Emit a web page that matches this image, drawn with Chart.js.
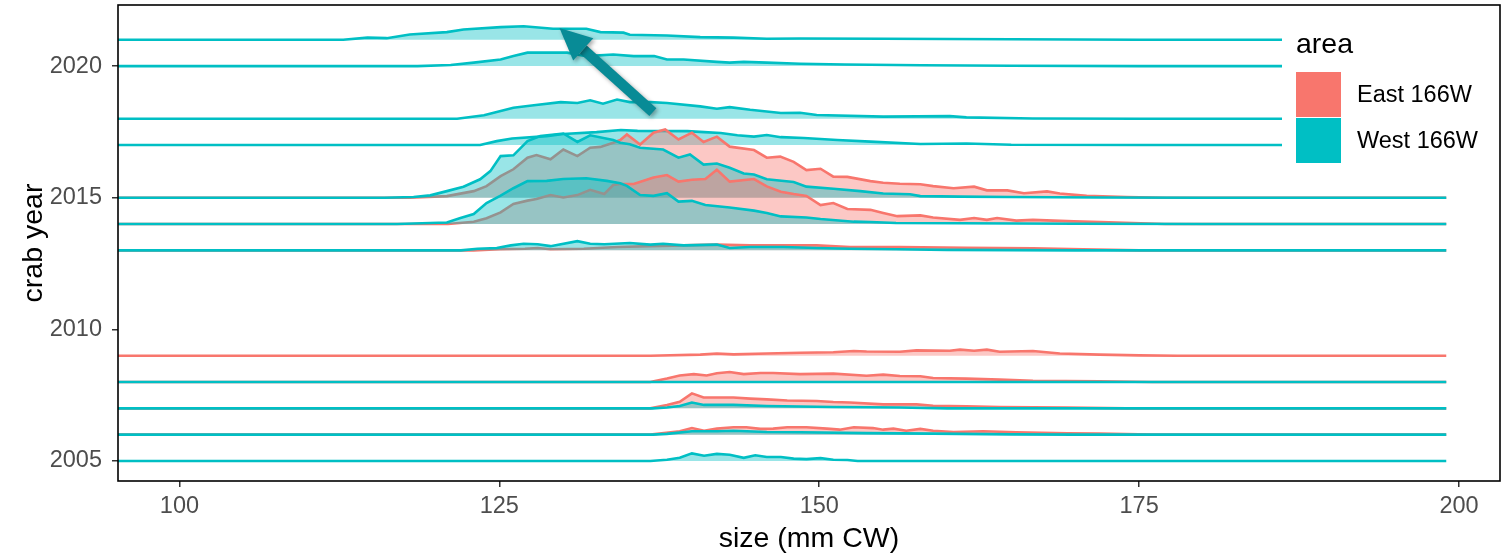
<!DOCTYPE html>
<html>
<head>
<meta charset="utf-8">
<script src="https://cdn.jsdelivr.net/npm/chart.js@4.4.1/dist/chart.umd.min.js"></script>
<style>
  html, body { margin: 0; padding: 0; background: #fff; }
  canvas { display: block; }
</style>
</head>
<body>
<canvas id="chart" width="1506" height="556"></canvas>
<script>
// Ridge data: [size (mm CW), ridge height in % of the gap between two years]
const west2021 = [[95,0],[112.8,0],[114.7,8],[116.2,6],[118,20],[120.9,29],[122.2,39],[125.1,48],[126.9,51],[129.2,42],[131.8,42],[132.9,29],[134.7,27],[135.2,19],[138.1,16],[140.7,10],[143.3,8],[145.9,4],[148.5,5],[155,4],[165,2],[175,0],[199,0]];
const west2020 = [[95,0],[118.6,0],[121.2,4],[123,13],[125.1,25],[126.1,38],[127.2,51],[129.2,51],[130.3,51],[131.8,38],[133.9,44],[135.5,38],[137.1,38],[138.1,25],[139.4,25],[142,16],[143,13],[144.1,16],[145.9,13],[148.5,9],[152,6],[158,3],[165,1],[175,0],[199,0]];
const west2018 = [[95,0],[121.7,0],[123.8,13],[126.1,42],[127.7,51],[129.8,63],[131.1,60],[132.1,70],[133.1,57],[134.2,73],[135.2,63],[136.8,63],[138.1,60],[140.7,47],[142,38],[143,44],[144.6,34],[147,22],[148.5,23],[149.8,14],[155,8],[160.2,10],[161.5,5],[166.7,1],[175,0],[199,0]];
const west2017 = [[95,0],[123.5,0],[124.8,15],[126,25],[128.7,34],[130,42],[132.6,49],[134.5,57],[135.8,54],[139.7,53],[141,49],[142.3,46],[143.6,37],[144.9,32],[145.9,38],[147,30],[148.8,27],[151.4,19],[154,13],[157.9,4],[161.5,6],[165,1],[175,0],[199,0]];
const east2015 = [[95,0],[118,0],[120.9,6],[123,25],[124,44],[125.1,82],[126.1,108],[127.2,152],[127.9,162],[129,146],[130,183],[131.1,158],[132.1,190],[132.9,193],[133.9,209],[134.45,219],[134.97,240],[136,202],[137.05,247],[137.96,259],[139,221],[140.05,247],[140.96,212],[142,232],[143,194],[144.9,181],[145.9,152],[146.95,156],[148,136],[149,105],[150.1,110],[151.1,80],[152.2,79],[154,63],[155,57],[156.3,53],[157.9,51],[158.9,44],[160.5,36],[162.1,42],[163.1,28],[164.7,28],[166,17],[167.8,24],[168.8,16],[170.9,7],[174,3],[177,0],[199,0]];
const west2015 = [[95,0],[116,0],[118.3,3],[119.6,9],[120.9,25],[122.2,42],[123.5,70],[124.3,101],[125.1,158],[126.1,161],[127.2,215],[128.2,234],[130,244],[131.1,212],[132.1,237],[133.9,219],[134.45,209],[135.2,203],[136,190],[137.8,183],[139,152],[139.9,164],[140.96,126],[142,130],[143,114],[144.1,92],[144.9,88],[145.9,70],[148,60],[149,42],[151.1,34],[153.2,25],[155,16],[157.1,13],[157.9,6],[161,4],[165,3],[172,1],[180,0],[199,0]];
const east2014 = [[95,0],[121,0],[123,9],[124,22],[125.1,44],[126.1,76],[127.2,89],[127.9,95],[129,110],[130,101],[131.1,110],[132.1,130],[133.2,114],[133.9,148],[134.45,152],[135.5,152],[137.05,177],[138.1,186],[139,161],[140.05,168],[141.1,171],[142,206],[143,161],[144.9,171],[145.9,143],[147,123],[148,114],[149,107],[150.1,72],[151.1,80],[152.2,57],[154,54],[155,42],[156.1,30],[157.9,33],[158.9,25],[161,16],[162.1,23],[163.1,16],[163.9,23],[165.4,13],[166.7,16],[169.9,10],[172,8],[174.5,4],[177,0],[199,0]];
const west2014 = [[95,0],[117,0],[120.9,6],[121.9,22],[123,38],[124,80],[125.1,108],[126.1,136],[127.2,163],[128.7,164],[130,171],[131.8,174],[133.4,164],[134.45,155],[134.97,145],[136,110],[137.05,107],[138.1,117],[139,85],[140.05,88],[141.1,72],[143,63],[144.9,51],[145.9,42],[147,29],[149,25],[150.1,19],[152.7,9],[154,8],[156,4],[161,3],[170,1],[180,0],[199,0]];
const east2013 = [[95,0],[123,0],[125,4],[127,6],[128,9],[129,4],[131.6,6],[134.2,13],[136.8,16],[139.4,19],[142,22],[144.6,19],[147.2,19],[149.8,19],[152.4,13],[156.3,13],[161.5,10],[166.7,8],[170.6,4],[175,0],[199,0]];
const west2013 = [[95,0],[122,0],[123.3,6],[124.8,9],[125.9,19],[126.9,25],[128,23],[129,16],[131.1,35],[132.1,25],[133.2,23],[135.2,28],[136.8,22],[137.8,25],[139.4,19],[142,22],[143,9],[144.6,13],[147.2,13],[149.8,9],[152.4,6],[156,4],[160,2],[170,0],[199,0]];
const east2009 = [[95,0],[136.8,0],[140.7,4],[142,8],[143.3,5],[145.9,8],[148.5,11],[151.1,13],[152.7,18],[153.7,16],[156.3,15],[157.6,20],[160.2,19],[161,23],[162.1,19],[163.1,23],[164.1,15],[166.7,18],[168.8,8],[171.9,4],[175,1],[178,0],[199,0]];
const east2008 = [[95,0],[136.8,0],[138.1,13],[139.1,25],[140.2,30],[141.2,25],[142,33],[143,38],[144.1,30],[145.4,34],[146.4,34],[148.5,30],[151.1,32],[153.7,24],[155,28],[156.3,23],[157.9,22],[158.9,15],[161.5,13],[164.1,9],[166.7,5],[171.9,3],[176,0],[199,0]];
const west2008 = [[95,0],[199,0]];
const east2007 = [[95,0],[136.8,0],[138.1,13],[139.1,25],[140.05,57],[140.96,41],[143.3,41],[144.6,37],[145.9,34],[147.5,30],[149.8,28],[151.1,24],[152.4,22],[155,15],[157.6,15],[158.9,10],[161.5,8],[164.1,5],[169.4,3],[174,0],[199,0]];
const west2007 = [[95,0],[137,0],[138.1,3],[139.1,9],[140.05,22],[141,13],[143.3,13],[145.9,9],[151.1,5],[156.3,3],[160,0],[199,0]];
const east2006 = [[95,0],[136.8,0],[139.1,13],[140.05,25],[141,15],[142,23],[143.3,28],[144.3,28],[145.4,22],[146.4,23],[147.5,28],[149,28],[150.6,23],[151.6,19],[152.7,28],[154.2,25],[155,19],[155.8,23],[156.8,15],[157.9,22],[158.9,15],[160.5,10],[162.8,13],[165.4,9],[169.4,5],[171.9,4],[176,0],[199,0]];
const west2006 = [[95,0],[137,0],[138.1,3],[140.05,13],[142,13],[143.3,15],[145.9,10],[148.5,9],[153.7,6],[158.9,4],[165,1],[170,0],[199,0]];
const west2005 = [[95,0],[136.8,0],[138.1,5],[139.1,12],[140.05,29],[141,20],[142,27],[143,24],[144.1,12],[145,22],[145.9,15],[147,15],[148,9],[149,7],[150.1,11],[151.1,5],[152.2,4],[153,0],[199,0]];

// drawing order: top ridge first, lower ridges on top
const ridges = [
  { year: 2021, area: "West 166W", data: west2021 },
  { year: 2020, area: "West 166W", data: west2020 },
  { year: 2018, area: "West 166W", data: west2018 },
  { year: 2017, area: "West 166W", data: west2017 },
  { year: 2015, area: "East 166W", data: east2015 },
  { year: 2015, area: "West 166W", data: west2015 },
  { year: 2014, area: "East 166W", data: east2014 },
  { year: 2014, area: "West 166W", data: west2014 },
  { year: 2013, area: "East 166W", data: east2013 },
  { year: 2013, area: "West 166W", data: west2013 },
  { year: 2009, area: "East 166W", data: east2009 },
  { year: 2008, area: "East 166W", data: east2008 },
  { year: 2008, area: "West 166W", data: west2008 },
  { year: 2007, area: "East 166W", data: east2007 },
  { year: 2007, area: "West 166W", data: west2007 },
  { year: 2006, area: "East 166W", data: east2006 },
  { year: 2006, area: "West 166W", data: west2006 },
  { year: 2005, area: "West 166W", data: west2005 }
];

const areas = ["East 166W", "West 166W"];
const areaColors = ["#F8766D", "#00BFC4"];
const areaFills = ["rgba(248,118,109,0.4)", "rgba(0,191,196,0.4)"];
const sizeTicks = [100, 125, 150, 175, 200];
const yearTicks = [2005, 2010, 2015, 2020];
const arrowFrom = [137, 2018.25];
const arrowTo = [129.7, 2021.45];

const FONT = '"Liberation Sans", Arial, Helvetica, sans-serif';

const datasets = ridges.map(r => {
  const a = areas.indexOf(r.area);
  return {
    label: r.area + " " + r.year,
    data: r.data.map(([x, h]) => ({ x: x, y: r.year + h / 100 })),
    borderColor: areaColors[a],
    backgroundColor: areaFills[a],
    borderWidth: 2.6,
    fill: { value: r.year },
    pointRadius: 0,
    tension: 0
  };
}).reverse();

// Arrow, legend and panel border
const extras = {
  id: "extras",
  afterDatasetsDraw(chart) {
    const { ctx, chartArea, scales } = chart;
    const x0 = scales.x.getPixelForValue(arrowFrom[0]);
    const y0 = scales.y.getPixelForValue(arrowFrom[1]);
    const x1 = scales.x.getPixelForValue(arrowTo[0]);
    const y1 = scales.y.getPixelForValue(arrowTo[1]);
    const ang = Math.atan2(y1 - y0, x1 - x0);
    const headLen = 32, headW = 15;
    const bx = x1 - headLen * Math.cos(ang), by = y1 - headLen * Math.sin(ang);

    ctx.save();
    ctx.shadowColor = "rgba(0,0,0,0.35)";
    ctx.shadowBlur = 4;
    ctx.shadowOffsetX = 2;
    ctx.shadowOffsetY = 2;
    ctx.strokeStyle = "#088b96";
    ctx.fillStyle = "#088b96";
    ctx.lineWidth = 10.5;
    ctx.beginPath();
    ctx.moveTo(x0, y0);
    ctx.lineTo(bx, by);
    ctx.stroke();
    ctx.beginPath();
    ctx.moveTo(x1, y1);
    ctx.lineTo(bx + headW * Math.sin(ang), by - headW * Math.cos(ang));
    ctx.lineTo(bx - headW * Math.sin(ang), by + headW * Math.cos(ang));
    ctx.closePath();
    ctx.fill();
    ctx.restore();

    // legend
    const lx = chartArea.right - 218;
    ctx.save();
    ctx.fillStyle = "#fff";
    ctx.fillRect(lx, chartArea.top + 3, 216, 172);
    ctx.fillStyle = "#000";
    ctx.font = "28.5px " + FONT;
    ctx.textBaseline = "alphabetic";
    ctx.fillText("area", lx + 14, 53);
    areas.forEach((name, i) => {
      const ky = 72 + i * 46;
      ctx.fillStyle = areaColors[i];
      ctx.fillRect(lx + 14, ky, 45, 45);
      ctx.fillStyle = "#000";
      ctx.font = "23.5px " + FONT;
      ctx.textBaseline = "middle";
      ctx.fillText(name, lx + 75, ky + 24);
    });
    ctx.restore();

    ctx.save();
    ctx.strokeStyle = "#000";
    ctx.lineWidth = 1.6;
    ctx.strokeRect(chartArea.left, chartArea.top, chartArea.right - chartArea.left, chartArea.bottom - chartArea.top);
    ctx.restore();
  }
};

new Chart(document.getElementById("chart"), {
  type: "line",
  data: { datasets: datasets },
  options: {
    responsive: false,
    animation: false,
    devicePixelRatio: 1,
    layout: { padding: { top: 5, right: 6, left: 0, bottom: 0 } },
    plugins: { legend: { display: false }, tooltip: { enabled: false } },
    scales: {
      x: {
        type: "linear",
        min: 95.2,
        max: 203.2,
        afterBuildTicks: s => { s.ticks = sizeTicks.map(v => ({ value: v })); },
        afterFit: s => { s.height = 75; s.paddingLeft = 0; s.paddingRight = 0; },
        ticks: { color: "#4d4d4d", font: { family: FONT, size: 23.5 }, padding: 5, maxRotation: 0, autoSkip: false },
        grid: { drawOnChartArea: false, drawTicks: true, tickLength: 6, color: "#333", lineWidth: 1.5 },
        border: { display: false },
        title: { display: true, text: "size (mm CW)", color: "#000", font: { family: FONT, size: 28.5 }, padding: { top: 2, bottom: 0 } }
      },
      y: {
        type: "linear",
        min: 2004.24,
        max: 2022.32,
        afterBuildTicks: s => { s.ticks = yearTicks.map(v => ({ value: v })); },
        afterFit: s => { s.width = 118; s.paddingTop = 0; s.paddingBottom = 0; },
        ticks: { color: "#4d4d4d", font: { family: FONT, size: 23.5 }, padding: 10, callback: v => String(v) },
        grid: { drawOnChartArea: false, drawTicks: true, tickLength: 6, color: "#333", lineWidth: 1.5 },
        border: { display: false },
        title: { display: true, text: "crab year", color: "#000", font: { family: FONT, size: 28.5 }, padding: { top: 17, bottom: 0 } }
      }
    }
  },
  plugins: [extras]
});
</script>
</body>
</html>
